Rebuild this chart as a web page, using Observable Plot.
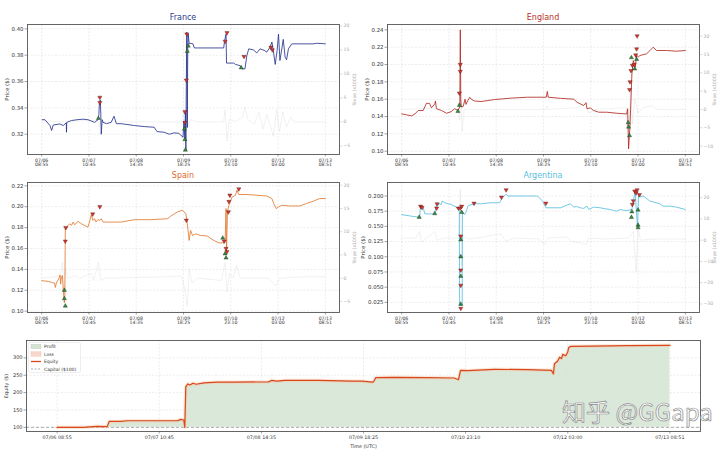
<!DOCTYPE html>
<html><head><meta charset="utf-8">
<script src="https://cdn.jsdelivr.net/npm/d3@7"></script>
<script src="https://cdn.jsdelivr.net/npm/@observablehq/plot@0.6"></script>
<style>
body{margin:0;background:#fff;font-family:"DejaVu Sans",sans-serif;}
#root{position:relative;width:720px;height:452px;overflow:hidden;background:#fff;}
.ttl{position:absolute;font-size:8px;text-align:center;width:312px;line-height:10px;font-family:"DejaVu Sans",sans-serif;}
.wm{position:absolute;font-family:"Noto Sans CJK SC",sans-serif;font-size:24px;color:#fff;-webkit-text-stroke:0.7px #8a8a8a;white-space:nowrap;letter-spacing:0px;}
</style></head><body><div id="root"></div>
<script>
// ---------- shared tick labels (x positions are tick indices 0..6) ----------
const tickLabels = ["07/06\n08:55","07/07\n10:45","07/08\n14:35","07/09\n18:25","07/10\n23:10","07/12\n03:00","07/13\n08:51"];
const equityTickLabels = ["07/06 08:55","07/07 10:45","07/08 14:35","07/09 18:25","07/10 23:10","07/12 03:00","07/13 08:51"];
const countries = ["France","England","Spain","Argentina"];

// ---------- France ----------
const francePrice = [[0.01,0.331],[0.07,0.331],[0.175,0.3266],[0.21,0.3228],[0.245,0.327],[0.385,0.3278],[0.455,0.3266],[0.52,0.3286],[0.525,0.3215],[0.53,0.329],[0.63,0.3304],[0.77,0.3311],[0.875,0.3314],[0.98,0.331],[1.12,0.329],[1.19,0.331],[1.21,0.335],[1.22,0.343],[1.24,0.346],[1.25,0.336],[1.26,0.320],[1.28,0.331],[1.3,0.329],[1.37,0.328],[1.47,0.329],[1.53,0.3337],[1.58,0.328],[1.68,0.328],[1.96,0.3266],[2.17,0.3258],[2.38,0.3253],[2.44,0.322],[2.59,0.3215],[2.7,0.320],[2.8,0.321],[2.9,0.3207],[2.99,0.3177],[3.01,0.330],[3.03,0.316],[3.04,0.337],[3.05,0.308],[3.06,0.361],[3.07,0.3975],[3.08,0.325],[3.09,0.385],[3.1,0.396],[3.12,0.3886],[3.15,0.389],[3.2,0.3886],[3.23,0.3855],[3.3,0.3855],[3.85,0.3855],[3.87,0.391],[3.9,0.396],[3.91,0.374],[4.06,0.374],[4.1,0.373],[4.2,0.372],[4.24,0.3696],[4.3,0.3696],[4.34,0.3797],[4.38,0.3848],[4.48,0.384],[4.55,0.3817],[4.62,0.3848],[4.72,0.3835],[4.76,0.3823],[4.83,0.386],[4.87,0.39],[4.9,0.3835],[4.94,0.373],[4.98,0.3835],[5.01,0.396],[5.04,0.376],[5.08,0.3848],[5.11,0.392],[5.15,0.3785],[5.18,0.3765],[5.22,0.3848],[5.29,0.3886],[5.74,0.3886],[5.81,0.389],[5.91,0.3889],[6.0,0.3886]];
const franceSlope = [[0,0],[1.18,0.3],[1.22,-1],[1.26,0.8],[1.3,0],[2.95,0],[3.0,2],[3.03,-4],[3.06,3],[3.1,-1],[3.15,0.5],[3.3,0],[3.85,0],[3.88,2.5],[3.92,-4],[3.97,0.5],[4.1,0],[4.25,1],[4.3,3],[4.36,0.5],[4.5,-0.5],[4.6,2],[4.68,-1.5],[4.76,1.5],[4.83,-0.5],[4.9,-3],[4.97,2.5],[5.03,-2],[5.1,2],[5.18,-1],[5.27,1],[5.35,0],[6.0,0]];
const franceBuys = [[1.2,0.332],[3.02,0.324],[3.03,0.316],[3.04,0.308],[3.08,0.383],[3.1,0.387],[4.22,0.3705]];
const franceSells = [[1.23,0.348],[1.23,0.344],[3.03,0.337],[3.03,0.329],[3.06,0.361],[3.07,0.396],[3.88,0.3905],[3.92,0.397],[4.28,0.379],[4.85,0.386],[4.88,0.384]];
const francePriceTicks = [0.32,0.34,0.36,0.38,0.40];
const franceSlopeTicks = [-5,0,5,10,15,20];
const francePriceDomain = [0.3046,0.4033];
const franceSlopeDomain = [-6.8,20.3];

// ---------- England ----------
const englandPrice = [[0,0.143],[0.1,0.142],[0.21,0.1408],[0.28,0.143],[0.35,0.147],[0.455,0.147],[0.525,0.1554],[0.59,0.155],[0.63,0.15],[0.7,0.1546],[0.715,0.158],[0.735,0.149],[0.84,0.147],[0.95,0.1438],[1.05,0.1457],[1.12,0.149],[1.19,0.147],[1.23,0.151],[1.24,0.24],[1.25,0.16],[1.26,0.151],[1.3,0.1515],[1.34,0.16],[1.36,0.154],[1.4,0.1585],[1.44,0.1623],[1.47,0.16],[1.54,0.158],[1.68,0.1573],[1.96,0.1596],[2.31,0.1612],[2.66,0.1623],[3.06,0.1623],[3.08,0.169],[3.1,0.1623],[3.36,0.161],[3.64,0.160],[3.71,0.1565],[3.85,0.1527],[3.9,0.156],[3.92,0.149],[3.99,0.150],[4.06,0.147],[4.17,0.145],[4.34,0.145],[4.55,0.1438],[4.76,0.143],[4.78,0.149],[4.8,0.1027],[4.83,0.13],[4.87,0.189],[4.9,0.2046],[4.94,0.197],[4.97,0.2104],[5.01,0.209],[5.04,0.2104],[5.08,0.211],[5.18,0.2123],[5.25,0.216],[5.32,0.22],[5.39,0.2162],[5.6,0.2162],[5.81,0.2154],[6.0,0.2162]];
const englandSlope = [[0,0],[0.5,0.3],[1.2,0],[1.23,-3],[1.25,4],[1.28,-6],[1.32,0],[3.06,0],[3.08,1],[3.1,0],[3.7,0.5],[3.9,1.5],[3.95,-1],[4.1,0],[4.75,0.5],[4.8,-8],[4.84,6],[4.88,-4],[4.93,3],[5.0,-1],[5.1,0.5],[5.3,1],[5.4,0],[6,0]];
const englandBuys = [[1.19,0.146],[1.22,0.153],[4.79,0.133],[4.8,0.128],[4.82,0.118],[4.86,0.208],[4.93,0.195],[4.97,0.206]];
const englandSells = [[1.22,0.167],[1.24,0.192],[1.24,0.200],[4.82,0.171],[4.83,0.18],[4.85,0.193],[4.88,0.199],[4.92,0.2],[4.95,0.211],[4.97,0.218],[4.98,0.233]];
const englandPriceTicks = [0.10,0.12,0.14,0.16,0.18,0.20,0.22,0.24];
const englandSlopeTicks = [-10,-5,0,5,10,15,20];
const englandPriceDomain = [0.0962,0.2462];
const englandSlopeDomain = [-12.3,23.2];

// ---------- Spain ----------
const spainPrice = [[0,0.1292],[0.14,0.1285],[0.21,0.1275],[0.27,0.1269],[0.29,0.1227],[0.31,0.1269],[0.36,0.1308],[0.39,0.1346],[0.4,0.1259],[0.42,0.1333],[0.44,0.134],[0.455,0.121],[0.48,0.108],[0.49,0.115],[0.5,0.18],[0.525,0.1789],[0.56,0.1821],[0.595,0.1837],[0.63,0.1821],[0.665,0.1853],[0.7,0.1827],[0.735,0.1846],[0.77,0.186],[0.84,0.1837],[0.91,0.182],[0.98,0.1805],[1.01,0.1853],[1.05,0.1924],[1.08,0.187],[1.12,0.1885],[1.15,0.1853],[1.19,0.1876],[1.23,0.187],[1.26,0.1885],[1.3,0.1853],[1.4,0.1853],[1.68,0.1853],[1.96,0.1876],[2.31,0.1876],[2.66,0.1885],[2.73,0.191],[2.87,0.195],[2.98,0.1966],[3.01,0.195],[3.05,0.1934],[3.08,0.1837],[3.12,0.1677],[3.15,0.1773],[3.19,0.1725],[3.26,0.174],[3.36,0.1725],[3.5,0.172],[3.64,0.1677],[3.75,0.1654],[3.85,0.1654],[3.88,0.166],[3.9,0.1982],[3.91,0.1564],[3.93,0.195],[3.96,0.2014],[4.03,0.2094],[4.1,0.211],[4.13,0.2158],[4.17,0.2117],[4.34,0.2117],[4.76,0.2103],[4.87,0.2078],[4.91,0.203],[4.96,0.1982],[5.01,0.1998],[5.08,0.2014],[5.25,0.2007],[5.46,0.2007],[5.6,0.203],[5.74,0.2052],[5.88,0.2078],[6.0,0.2078]];
const spainSlope = [[0,0],[0.3,0.3],[0.4,1],[0.44,3.4],[0.47,-4.5],[0.5,2],[0.55,0],[0.7,0.5],[0.8,0],[1.05,1],[1.1,-0.5],[1.2,3.4],[1.25,-0.5],[1.35,0],[2.7,0.3],[2.95,0.5],[3.02,-2],[3.08,-6],[3.12,2],[3.18,-1],[3.3,0],[3.8,-0.5],[3.88,3.4],[3.92,-3],[3.97,1],[4.05,0],[4.12,2.7],[4.2,0],[4.8,0],[4.95,-1.7],[5.05,0],[5.5,0.3],[6.0,0.3]];
const spainBuys = [[0.48,0.12],[0.48,0.112],[0.5,0.105],[3.83,0.17],[3.88,0.155],[3.9,0.151]];
const spainSells = [[0.5,0.167],[0.51,0.18],[1.08,0.193],[1.23,0.2],[3.06,0.187],[3.86,0.167],[3.9,0.16],[3.92,0.157],[3.95,0.195],[3.96,0.205],[3.98,0.211],[4.17,0.217]];
const spainPriceTicks = [0.10,0.12,0.14,0.16,0.18,0.20,0.22];
const spainSlopeTicks = [-5,0,5,10,15,20];
const spainPriceDomain = [0.0987,0.2232];
const spainSlopeDomain = [-7.4,20.6];

// ---------- Argentina ----------
const argentinaPrice = [[0,0.1694],[0.21,0.1667],[0.38,0.165],[0.4,0.1833],[0.455,0.181],[0.49,0.1706],[0.595,0.1706],[0.7,0.1706],[0.735,0.186],[0.8,0.187],[0.84,0.186],[0.855,0.1917],[0.91,0.189],[0.98,0.1872],[1.05,0.186],[1.155,0.1817],[1.19,0.178],[1.22,0.176],[1.225,0.02],[1.28,0.02],[1.285,0.175],[1.3,0.172],[1.33,0.1694],[1.37,0.175],[1.4,0.1833],[1.47,0.186],[1.54,0.1872],[1.68,0.1872],[1.89,0.1889],[2.07,0.1889],[2.14,0.1983],[2.21,0.2028],[2.25,0.2],[2.66,0.2],[2.87,0.2],[2.98,0.1917],[3.05,0.1806],[3.36,0.1806],[3.5,0.185],[3.57,0.1872],[3.64,0.1817],[3.7,0.1828],[3.78,0.1806],[3.85,0.1795],[3.92,0.1833],[3.96,0.1778],[4.06,0.1817],[4.2,0.1806],[4.3,0.179],[4.41,0.1778],[4.48,0.1762],[4.55,0.175],[4.62,0.1778],[4.7,0.1765],[4.76,0.176],[4.87,0.1778],[4.94,0.2083],[4.96,0.1806],[4.99,0.1472],[5.01,0.2028],[5.04,0.1983],[5.11,0.2],[5.25,0.1917],[5.46,0.1872],[5.53,0.1833],[5.67,0.1833],[5.81,0.1817],[6.0,0.1778]];
const argentinaSlope = [[0,1],[0.3,1],[0.38,4],[0.42,-1],[0.5,0.5],[0.7,4],[0.75,0],[0.9,1],[1.2,1],[1.24,24],[1.27,-12],[1.3,2],[1.4,0.5],[1.6,1],[2.1,3],[2.2,-0.5],[2.4,1],[2.9,0.5],[3.02,-2],[3.1,1],[3.5,1.5],[3.6,-0.5],[3.9,-2],[3.95,1],[4.3,0.5],[4.8,1],[4.9,4],[4.96,-15],[5.0,6],[5.05,0],[5.3,0.5],[6,0.5]];
const argentinaBuys = [[0.37,0.165],[0.7,0.171],[1.27,0.173],[1.25,0.128],[1.25,0.1],[1.25,0.068],[1.25,0.022],[4.86,0.165],[4.87,0.174],[5.0,0.177],[5.0,0.152],[5.0,0.148]];
const argentinaSells = [[0.4,0.183],[0.43,0.181],[0.74,0.18],[0.75,0.187],[1.2,0.18],[1.24,0.18],[1.27,0.183],[1.25,0.134],[1.25,0.078],[1.25,0.053],[1.25,0.015],[1.53,0.188],[2.11,0.198],[2.21,0.21],[3.05,0.188],[4.88,0.186],[4.9,0.192],[4.93,0.208],[4.96,0.205],[4.98,0.21],[5.03,0.202]];
const argentinaPriceTicks = [0.025,0.05,0.075,0.1,0.125,0.15,0.175,0.2];
const argentinaSlopeTicks = [-30,-20,-10,0,10,20];
const argentinaPriceDomain = [0.0083,0.2222];
const argentinaSlopeDomain = [-34,27.1];

// ---------- Equity ----------
const equity = [[0,100],[0.26,100],[0.39,103],[0.49,102],[0.51,117],[0.62,117],[0.69,119],[0.95,119],[1.08,119],[1.18,119],[1.21,123],[1.24,121],[1.25,100],[1.26,217],[1.28,225],[1.3,222],[1.33,227],[1.36,224],[1.44,228],[1.57,230],[1.74,230],[2.07,231],[2.1,235],[2.15,233],[2.23,235],[2.56,235],[2.89,233],[2.98,233],[3.09,230],[3.1,232],[3.12,243],[3.3,244],[3.63,243],[3.89,242],[3.93,237],[3.95,264],[4.02,263],[4.28,267],[4.61,266],[4.84,264],[4.86,254],[4.87,283],[4.9,290],[4.92,302],[4.94,298],[4.95,310],[4.98,306],[5.0,317],[5.01,330],[5.03,333],[5.26,334],[5.58,335],[6.0,336]];
const equityTicks = [100,150,200,250,300];
const capital = 100;
const legendItems = ["Profit","Loss","Equity","Capital ($100)"];

// ---------- rendering ----------
const root = document.getElementById("root");
const FONT = "DejaVu Sans, sans-serif";
function place(el, left, top) {
  el.style.position = "absolute"; el.style.left = left + "px"; el.style.top = top + "px";
  root.appendChild(el);
}
function title(text, color, cx, cy) {
  const d = document.createElement("div"); d.className = "ttl"; d.textContent = text; d.style.color = color;
  d.style.left = (cx - 156) + "px"; d.style.top = (cy - 5) + "px"; root.appendChild(d);
}

function panel(cfg) {
  const [p0, p1] = cfg.priceDomain, [s0, s1] = cfg.slopeDomain;
  const toP = s => p0 + (s - s0) / (s1 - s0) * (p1 - p0);
  const toS = p => s0 + (p - p0) / (p1 - p0) * (s1 - s0);
  const gridStyle = {stroke: "#b0b0b0", strokeOpacity: 0.45, strokeDasharray: "2,1.5", strokeWidth: 0.5};
  return Plot.plot({
    width: 360, height: 172,
    marginTop: cfg.mTop, marginBottom: 172 - cfg.mTop - 130, marginLeft: 27, marginRight: 21,
    style: {fontFamily: FONT, fontSize: "5px", color: "#333", background: "transparent", overflow: "visible"},
    x: {domain: [-0.3, 6.3]},
    y: {domain: cfg.priceDomain},
    marks: [
      Plot.gridX(d3.range(7), gridStyle),
      Plot.gridY(cfg.priceTicks, gridStyle),
      Plot.line(cfg.slope, {x: d => d[0], y: d => toP(d[1]), stroke: "#cfcfcf", strokeWidth: 0.55, strokeOpacity: 0.55}),
      Plot.line(cfg.price, {x: d => d[0], y: d => d[1], stroke: cfg.color, strokeWidth: 0.85}),
      Plot.dot(cfg.buys, {x: d => d[0], y: d => d[1], symbol: "triangle", r: 1.55, fill: "#2f8f3a", stroke: "#1a1a1a", strokeWidth: 0.35}),
      Plot.dot(cfg.sells, {x: d => d[0], y: d => d[1], symbol: "triangle", rotate: 180, r: 1.55, fill: "#d9342b", stroke: "#3a1010", strokeWidth: 0.35}),
      Plot.axisX(d3.range(7), {tickFormat: i => tickLabels[i], tickSize: 2.5, tickPadding: 1.5, fontSize: 4.6, stroke: "#444", strokeWidth: 0.5, label: null, lineHeight: 0.95}),
      Plot.axisY(cfg.priceTicks, {anchor: "left", tickFormat: d3.format(cfg.fmt), tickSize: 2.5, tickPadding: 1.5, fontSize: 5.4, stroke: "#444", strokeWidth: 0.5,
        label: "Price ($)", labelAnchor: "center", labelArrow: "none", labelOffset: cfg.labelOffset}),
      Plot.axisY(cfg.slopeTicks.map(toP), {anchor: "right", tickFormat: p => String(Math.round(toS(p))).replace("-", "\u2212"), tickSize: 2.5, tickPadding: 1.5, fontSize: 4.6,
        stroke: "#bbb", strokeWidth: 0.5, color: "#aaa", fill: "#aaa",
        label: "Slope (x1000)", labelAnchor: "center", labelArrow: "none", labelOffset: 16}),
      Plot.frame({stroke: "#555", strokeWidth: 0.9})
    ]
  });
}

const cfgs = [
  {name: countries[0], color: "#2a3590", tcolor: "#2e3a8c", left: 0, top: 0, mTop: 24, labelOffset: 22, price: francePrice, slope: franceSlope, buys: franceBuys, sells: franceSells, priceTicks: francePriceTicks, slopeTicks: franceSlopeTicks, priceDomain: francePriceDomain, slopeDomain: franceSlopeDomain, fmt: ".2f"},
  {name: countries[1], color: "#b22a22", tcolor: "#b7312a", left: 360, top: 0, mTop: 24, labelOffset: 22, price: englandPrice, slope: englandSlope, buys: englandBuys, sells: englandSells, priceTicks: englandPriceTicks, slopeTicks: englandSlopeTicks, priceDomain: englandPriceDomain, slopeDomain: englandSlopeDomain, fmt: ".2f"},
  {name: countries[2], color: "#e47a30", tcolor: "#e0662a", left: 0, top: 160, mTop: 22, labelOffset: 22, price: spainPrice, slope: spainSlope, buys: spainBuys, sells: spainSells, priceTicks: spainPriceTicks, slopeTicks: spainSlopeTicks, priceDomain: spainPriceDomain, slopeDomain: spainSlopeDomain, fmt: ".2f"},
  {name: countries[3], color: "#5bbfe0", tcolor: "#5bc0de", left: 360, top: 160, mTop: 22, labelOffset: 26, price: argentinaPrice, slope: argentinaSlope, buys: argentinaBuys, sells: argentinaSells, priceTicks: argentinaPriceTicks, slopeTicks: argentinaSlopeTicks, priceDomain: argentinaPriceDomain, slopeDomain: argentinaSlopeDomain, fmt: ".3f"}
];
for (const c of cfgs) {
  place(panel(c), c.left, c.top);
  title(c.name, c.tcolor, c.left + 183, c.top + c.mTop - 6);
}

// Equity panel
const eqGrid = {stroke: "#b0b0b0", strokeOpacity: 0.45, strokeDasharray: "2,1.5", strokeWidth: 0.5};
const eqPlot = Plot.plot({
  width: 720, height: 122, marginTop: 10, marginBottom: 21, marginLeft: 26, marginRight: 20,
  style: {fontFamily: FONT, fontSize: "5px", color: "#333", background: "transparent", overflow: "visible"},
  x: {domain: [-0.3, 6.3]},
  y: {domain: [88, 350]},
  marks: [
    Plot.gridX(d3.range(7), eqGrid),
    Plot.gridY(equityTicks, eqGrid),
    Plot.areaY(equity, {x: d => d[0], y1: capital, y2: d => Math.max(capital, d[1]), fill: "#d3e4d3", fillOpacity: 0.85}),
    Plot.ruleY([capital], {stroke: "#8a8a8a", strokeDasharray: "3,2", strokeWidth: 0.7}),
    Plot.line(equity, {x: d => d[0], y: d => d[1], stroke: "#f6c9a4", strokeWidth: 3.5, strokeOpacity: 0.45}),
    Plot.line(equity, {x: d => d[0], y: d => d[1], stroke: "#d9471f", strokeWidth: 1.2}),
    Plot.axisX(d3.range(7), {tickFormat: i => equityTickLabels[i], tickSize: 2.5, tickPadding: 2, fontSize: 4.8, stroke: "#444", strokeWidth: 0.5,
      label: "Time (UTC)", labelAnchor: "center", labelArrow: "none", labelOffset: 16}),
    Plot.axisY(equityTicks, {tickSize: 2.5, tickPadding: 1.5, fontSize: 5, stroke: "#444", strokeWidth: 0.5,
      label: "Equity ($)", labelAnchor: "center", labelArrow: "none", labelOffset: 22}),
    Plot.frame({stroke: "#555", strokeWidth: 0.9})
  ]
});
place(eqPlot, 0, 330);

// Legend (drawn as a small SVG overlay)
const lg = d3.create("svg").attr("width", 54).attr("height", 32).style("font-family", FONT);
lg.append("rect").attr("x", 0.5).attr("y", 0.5).attr("width", 52).attr("height", 30).attr("fill", "#fff").attr("fill-opacity", 0.8).attr("stroke", "#ddd").attr("stroke-width", 0.5).attr("rx", 1.5);
const rowsY = [4.5, 12, 19.5, 27];
lg.append("rect").attr("x", 3).attr("y", rowsY[0] - 2.2).attr("width", 10).attr("height", 4.4).attr("fill", "#d3e4d3").attr("stroke", "#bbb").attr("stroke-width", 0.3);
lg.append("rect").attr("x", 3).attr("y", rowsY[1] - 2.2).attr("width", 10).attr("height", 4.4).attr("fill", "#f9d6cc").attr("stroke", "#e8b0a0").attr("stroke-width", 0.3);
lg.append("line").attr("x1", 3).attr("x2", 13).attr("y1", rowsY[2]).attr("y2", rowsY[2]).attr("stroke", "#d9471f").attr("stroke-width", 1.3);
lg.append("line").attr("x1", 3).attr("x2", 13).attr("y1", rowsY[3]).attr("y2", rowsY[3]).attr("stroke", "#8a8a8a").attr("stroke-width", 0.7).attr("stroke-dasharray", "2,1.5");
legendItems.forEach((t, i) => lg.append("text").attr("x", 16).attr("y", rowsY[i]).attr("dy", "0.35em").attr("font-size", 4.5).attr("fill", "#333").text(t));
place(lg.node(), 28, 342);

// watermark
const wm = document.createElement("div"); wm.className = "wm"; wm.textContent = "知乎 @GGapa";
place(wm, 562, 393);
</script></body></html>
